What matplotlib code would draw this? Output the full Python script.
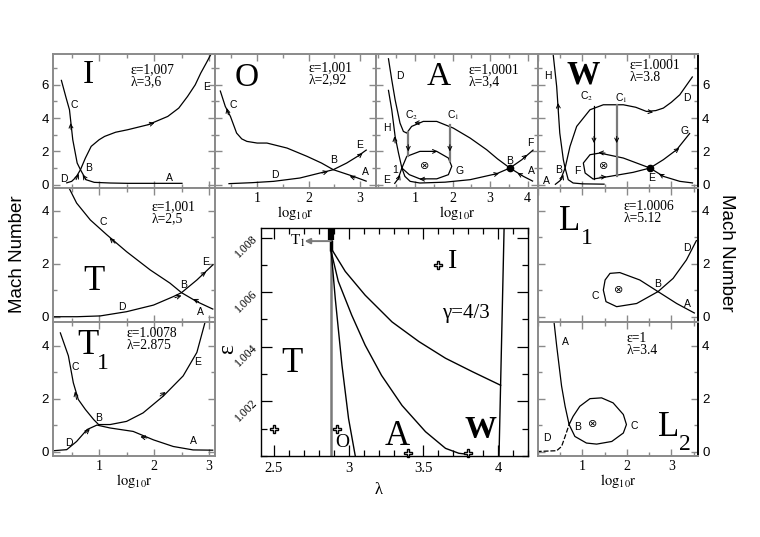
import matplotlib
matplotlib.use("Agg")
import matplotlib.pyplot as plt
from matplotlib.ticker import MultipleLocator, FuncFormatter

plt.rcParams['font.family'] = ['Liberation Serif', 'DejaVu Serif']
plt.rcParams['mathtext.fontset'] = 'stix'

# ---------------- data ----------------
# panel I  (eps=1.007, lambda=3.6)
I_C_x = [0.31, 0.40, 0.46, 0.52, 0.60, 0.66, 0.76, 0.91, 1.2, 1.52, 2.0, 2.52]
I_C_y = [6.3, 5.2, 4.5, 2.7, 1.3, 0.9, 0.3, 0.14, 0.1, 0.08, 0.08, 0.08]
I_DE_x = [0.40, 0.5, 0.58, 0.66, 0.75, 0.855, 1.0, 1.1, 1.3, 1.52, 1.89, 2.25, 2.45, 2.61, 2.75, 2.85, 2.95, 3.04]
I_DE_y = [0.1, 0.2, 0.45, 0.9, 1.6, 2.3, 2.7, 2.9, 3.15, 3.3, 3.6, 4.1, 4.6, 5.3, 6.0, 6.7, 7.3, 7.86]

# panel O  (eps=1.001, lambda=2.92)
O_C_x = [0.28, 0.38, 0.48, 0.6, 0.7, 0.8, 1.0, 1.19, 1.58, 1.97, 2.25, 2.48, 2.87, 3.13]
O_C_y = [5.66, 4.7, 4.1, 3.1, 2.75, 2.6, 2.5, 2.5, 2.2, 1.7, 1.3, 0.9, 0.5, 0.2]
O_DE_x = [0.44, 0.9, 1.32, 1.83, 2.22, 2.48, 2.74, 2.95, 3.13]
O_DE_y = [0.06, 0.12, 0.2, 0.4, 0.7, 0.9, 1.3, 1.7, 2.1]

# panel A  (eps=1.0001, lambda=3.4)
A_D_x = [0.29, 0.38, 0.47, 0.6, 0.69, 0.78, 0.91, 1.22, 1.58, 2.02, 2.47, 2.91, 3.2, 3.53, 3.89, 4.15]
A_D_y = [7.6, 6.3, 5.1, 3.7, 3.2, 3.1, 3.5, 3.8, 3.8, 3.4, 2.8, 2.1, 1.55, 1.0, 0.5, 0.2]
A_H_x = [0.29, 0.38, 0.47, 0.56, 0.65, 0.73, 0.87, 1.13, 1.8, 2.47, 3.18, 3.53, 3.85, 4.16]
A_H_y = [5.7, 4.5, 2.9, 1.9, 1.0, 0.5, 0.2, 0.1, 0.15, 0.3, 0.66, 1.0, 1.5, 2.1]
A_G_x = [0.45, 0.55, 0.65, 0.78, 1.13, 1.58, 1.89, 1.98, 1.89, 1.58, 1.13, 0.85, 0.65]
A_G_y = [0.05, 0.35, 1.0, 1.7, 2.0, 2.0, 1.6, 1.1, 0.6, 0.35, 0.35, 0.6, 1.0]
A_shock_x = [0.82, 1.93]
A_shock_top = [3.15, 3.6]
A_shock_bot = [1.75, 1.45]

# panel W  (eps=1.0001, lambda=3.8)
W_H_x = [0.34, 0.42, 0.49, 0.57, 0.61, 0.68, 0.79, 1.0, 1.5]
W_H_y = [7.86, 5.9, 3.1, 1.5, 1.0, 0.3, 0.1, 0.05, 0.03]
W_D_x = [0.38, 0.5, 0.61, 0.72, 0.87, 1.17, 1.47, 1.92, 2.2, 2.44, 2.65, 2.82, 3.0, 3.19, 3.48]
W_D_y = [0.0, 0.25, 1.0, 2.3, 3.5, 4.5, 4.8, 4.8, 4.65, 4.4, 4.45, 4.6, 4.95, 5.4, 6.5]
W_G_x = [3.42, 3.12, 2.82, 2.52, 1.92, 1.39, 1.17, 1.02, 1.06, 1.24, 1.62, 2.14, 2.52, 2.82, 3.19, 3.49]
W_G_y = [3.1, 2.1, 1.5, 1.0, 1.6, 1.9, 1.8, 1.3, 0.7, 0.34, 0.5, 0.74, 1.0, 0.5, 0.2, 0.1]
W_shock_x = [1.26, 1.77]
W_shock_top = [4.7, 4.8]
W_shock_bot = [0.36, 0.55]

# panel T  (eps=1.001, lambda=2.5)
T_C_x = [0.44, 0.59, 0.84, 1.14, 1.5, 1.93, 2.29, 2.5, 2.78, 3.08]
T_C_y = [4.92, 4.3, 3.66, 3.1, 2.46, 1.77, 1.27, 0.91, 0.57, 0.28]
T_DE_x = [0.17, 0.6, 1.02, 1.5, 1.99, 2.35, 2.5, 2.78, 3.08]
T_DE_y = [0.0, 0.0, 0.03, 0.19, 0.44, 0.76, 0.91, 1.39, 1.98]

# panel T1 (eps=1.0078, lambda=2.875)
T1_CE_x = [0.29, 0.44, 0.53, 0.62, 0.75, 0.9, 0.99, 1.2, 1.5, 1.8, 2.17, 2.53, 2.78, 2.93]
T1_CE_y = [4.51, 3.62, 2.6, 1.97, 1.59, 1.21, 1.02, 1.02, 1.14, 1.46, 2.1, 2.86, 3.75, 4.9]
T1_DA_x = [0.17, 0.41, 0.59, 0.78, 0.96, 1.2, 1.62, 1.99, 2.35, 2.71, 3.08]
T1_DA_y = [0.03, 0.07, 0.38, 0.83, 1.0, 0.89, 0.76, 0.44, 0.19, 0.06, 0.05]

# panel L1 (eps=1.0006, lambda=5.12)
L1_x = [3.53, 3.12, 2.7, 2.29, 1.84, 1.62, 1.51, 1.47, 1.53, 1.77, 2.22, 2.7, 3.04, 3.34, 3.57]
L1_y = [0.13, 0.5, 0.95, 1.39, 1.67, 1.64, 1.39, 1.01, 0.57, 0.38, 0.5, 0.95, 1.45, 2.15, 2.9]

# panel L2 (eps=1, lambda=3.4)
L2_A_x = [0.36, 0.42, 0.53, 0.61, 0.7, 0.83, 1.09, 1.32, 1.66, 1.92, 1.99, 1.92, 1.69, 1.43, 1.17, 0.94, 0.79, 0.7]
L2_A_y = [4.91, 4.0, 2.48, 1.71, 1.02, 0.57, 0.32, 0.28, 0.38, 0.7, 1.02, 1.4, 1.84, 2.03, 2.0, 1.71, 1.33, 1.02]
L2_D_x = [-0.03, 0.42, 0.53, 0.61, 0.7]
L2_D_y = [0.0, 0.03, 0.19, 0.57, 1.02]

# arrows: x, y, dx, dy
I_arr = [(0.49, 3.3, -0.01, 0.4), (0.58, 0.3, 0.05, 0.35), (0.76, 0.3, -0.06, 0.3), (1.89, 3.6, 0.12, 0.12)]
O_arr = [(0.44, 4.2, -0.03, 0.4), (2.26, 0.7, 0.12, 0.1), (2.97, 1.7, 0.08, 0.2), (2.9, 0.4, -0.1, 0.1)]
A_arr = [(0.47, 2.5, -0.02, 0.4), (0.55, 0.3, 0.05, 0.3), (0.82, 2.4, 0, -0.4), (1.93, 2.4, 0, -0.4),
         (1.45, 2.0, 0.15, 0), (1.27, 0.33, -0.15, 0), (3.09, 0.6, 0.15, 0.08), (3.89, 1.6, 0.1, 0.2),
         (3.85, 0.55, -0.12, 0.15), (1.13, 3.72, -0.15, 0)]
W_arr = [(0.46, 4.5, -0.01, 0.4), (0.53, 0.3, 0.04, 0.3), (1.26, 2.9, 0, -0.4), (1.77, 2.9, 0, -0.4),
         (2.44, 4.4, 0.15, -0.05), (1.51, 1.9, -0.15, 0.03), (1.39, 0.45, 0.15, 0.02), (3.08, 2.0, 0.1, 0.2),
         (2.82, 0.5, -0.1, 0.15)]
T_arr = [(1.29, 2.78, -0.1, 0.2), (2.38, 0.72, 0.12, 0.08), (2.87, 1.58, 0.08, 0.12), (2.81, 0.57, -0.1, 0.1)]
T1_arr = [(0.59, 1.97, -0.03, 0.3), (0.75, 0.7, 0.08, 0.15), (2.11, 2.1, 0.1, 0.15), (1.87, 0.51, -0.12, 0.05)]

# small letter labels
I_lab = [('C', 0.54, 4.8), ('E', 2.95, 5.85), ('B', 0.81, 1.0), ('D', 0.36, 0.36), ('A', 2.28, 0.4)]
O_lab = [('C', 0.53, 4.8), ('E', 3.0, 2.4), ('B', 2.48, 1.5), ('A', 3.1, 0.75), ('D', 1.35, 0.6)]
A_lab = [('D', 0.6, 6.5), ('H', 0.24, 3.4), ('F', 4.07, 2.5), ('B', 3.52, 1.45), ('A', 4.1, 0.85),
         ('G', 2.2, 0.85), ('1', 0.47, 0.9), ('E', 0.23, 0.3)]
A_sub = [('C', '2', 0.91, 4.2), ('C', '1', 2.02, 4.2)]
W_lab = [('H', 0.23, 6.5), ('D', 3.34, 5.2), ('G', 3.3, 3.2), ('F', 0.88, 0.8), ('B', 0.46, 0.9),
         ('A', 0.2, 0.2), ('E', 2.55, 0.4)]
W_sub = [('C', '2', 1.09, 5.3), ('C', '1', 1.88, 5.2)]
T_lab = [('C', 1.08, 3.6), ('E', 2.93, 2.08), ('B', 2.53, 1.2), ('A', 2.85, 0.19), ('D', 1.41, 0.38)]
T1_lab = [('C', 0.56, 3.18), ('E', 2.8, 3.37), ('B', 0.99, 1.27), ('D', 0.44, 0.32), ('A', 2.71, 0.38)]
L1_lab = [('D', 3.34, 2.59), ('B', 2.69, 1.24), ('C', 1.28, 0.78), ('A', 3.36, 0.48)]
L2_lab = [('A', 0.61, 4.15), ('B', 0.89, 0.91), ('C', 2.16, 0.95), ('D', 0.21, 0.51)]

# central parameter-space panel
c_O_lam = [2.883, 2.91, 2.955, 2.999, 3.044]
c_O_eps = [1.00748, 1.00577, 1.00332, 1.00137, 1.0]
c_W_lam = [2.883, 2.93, 3.02, 3.11, 3.22, 3.357, 3.514, 3.648, 3.737, 3.8]
c_W_eps = [1.00748, 1.0064, 1.00516, 1.00406, 1.00295, 1.00185, 1.00089, 1.00028, 1.0001, 1.00006]
c_I_lam = [2.883, 2.977, 3.11, 3.29, 3.47, 3.648, 3.827, 4.017]
c_I_eps = [1.0076, 1.00676, 1.00589, 1.00491, 1.00419, 1.00358, 1.00309, 1.00259]
c_edge_lam = [4.04, 4.006]
c_edge_eps = [1.00835, 1.0]
c_T1_lam = 2.88
pt_lam = [2.5, 2.92, 3.4, 3.8, 3.6]
pt_eps = [1.001, 1.001, 1.0001, 1.0001, 1.007]
c_eps_ticks = [1.002, 1.004, 1.006, 1.008]
c_lam_ticks = [2.5, 3, 3.5, 4]

FRAME = '#8a8a8a'
W_PX, H_PX = 760, 537
fig = plt.figure(figsize=(7.6, 5.37), dpi=100)


def box(x0, y0, x1, y1):
    return [x0 / W_PX, 1 - y1 / H_PX, (x1 - x0) / W_PX, (y1 - y0) / H_PX]


def intfmt(v, pos):
    return '%g' % v


def panel(rect, xlim, ylim, xticks=None, yside=None, yticks=None, xlabel=False, right_black=False):
    ax = fig.add_axes(box(*rect))
    ax.set_xlim(xlim)
    ax.set_ylim(ylim)
    ax.xaxis.set_major_locator(MultipleLocator(1))
    ax.xaxis.set_minor_locator(MultipleLocator(0.5))
    ax.yaxis.set_major_locator(MultipleLocator(2))
    ax.yaxis.set_minor_locator(MultipleLocator(1))
    ax.tick_params(which='both', direction='in', top=True, right=True, color=FRAME, width=1)
    ax.tick_params(which='major', length=5)
    ax.tick_params(which='minor', length=3)
    for s in ax.spines.values():
        s.set_color(FRAME)
        s.set_linewidth(1.4)
    if right_black:
        ax.spines['right'].set_color('k')
    if xticks is not None:
        ax.set_xticks(xticks)
        ax.xaxis.set_major_formatter(FuncFormatter(intfmt))
        ax.tick_params(axis='x', labelsize=10, pad=3)
    else:
        ax.tick_params(axis='x', labelbottom=False)
    if yticks is not None:
        ax.set_yticks(yticks)
        ax.yaxis.set_major_formatter(FuncFormatter(intfmt))
    ax.tick_params(axis='y', labelleft=(yside == 'left'), labelright=(yside == 'right'), labelsize=9.5, pad=3)
    for lab in ax.get_yticklabels():
        lab.set_family('Liberation Sans')
    if xlabel:
        ax.set_xlabel(r'$\mathrm{log}_{10}\mathrm{r}$', fontsize=10.5, labelpad=-1)
    return ax


def curve(ax, x, y, color='k', lw=0.9):
    ax.plot(x, y, color=color, lw=lw, solid_capstyle='butt')


def arrows(ax, pts):
    for x, y, dx, dy in pts:
        ax.annotate('', xy=(x + dx, y + dy), xytext=(x, y),
                    arrowprops=dict(arrowstyle='->', lw=0.7, color='k', shrinkA=0, shrinkB=0,
                                    mutation_scale=7))


def letters(ax, labs):
    for t, x, y in labs:
        ax.text(x, y, t, family='Liberation Sans', fontsize=7.5, ha='center', va='center')


def subletters(ax, labs):
    for t, s, x, y in labs:
        ax.text(x, y, t + r'$_{' + s + '}$', family='Liberation Sans', fontsize=7.5, ha='center', va='center')


def params(ax, x, ytop, eps, lam):
    # two tight lines as one text
    ax.text(x, ytop, 'ε=' + eps + '\n' + 'λ=' + lam, fontsize=9.8, ha='left', va='top', linespacing=0.9)


def otimes(ax, x, y):
    ax.text(x, y, '⊗', family='DejaVu Sans', fontsize=8, ha='center', va='center')


YL_TOP = (-0.2, 7.85)
YL_MID = (-0.2, 4.87)
YL_BOT = (-0.17, 4.9)

# ---- top row ----
axI = panel((53, 54, 215, 188), (0.16, 3.11), YL_TOP, yside='left', yticks=[0, 2, 4, 6])
curve(axI, I_C_x, I_C_y)
curve(axI, I_DE_x, I_DE_y)
arrows(axI, I_arr)
letters(axI, I_lab)
axI.text(0.8, 6.6, 'I', fontsize=24, ha='center', va='center')
params(axI, 1.58, 7.3, '1,007', '3,6')

axO = panel((215, 54, 376, 188), (0.18, 3.31), YL_TOP, xticks=[1, 2, 3], xlabel=True)
curve(axO, O_C_x, O_C_y)
curve(axO, O_DE_x, O_DE_y)
arrows(axO, O_arr)
letters(axO, O_lab)
axO.text(0.8, 6.4, 'O', fontsize=24, ha='center', va='center')
params(axO, 2.0, 7.4, '1,001', '2,92')

axA = panel((376, 54, 538, 188), (-0.04, 4.28), YL_TOP, xticks=[1, 2, 3, 4], xlabel=True)
curve(axA, A_D_x, A_D_y)
curve(axA, A_H_x, A_H_y)
curve(axA, A_G_x, A_G_y)
for x, t, b in zip(A_shock_x, A_shock_top, A_shock_bot):
    axA.plot([x, x], [t, b], color='#7a7a7a', lw=1.6)
arrows(axA, A_arr)
letters(axA, A_lab)
subletters(axA, A_sub)
otimes(axA, 1.27, 1.1)
axA.plot([3.53], [1.0], 'o', color='k', ms=4.5)
axA.text(1.62, 6.5, 'A', fontsize=24, ha='center', va='center')
params(axA, 2.42, 7.3, '1,0001', '3,4')

axW = panel((538, 54, 698, 188), (0, 3.6), YL_TOP, yside='right', yticks=[0, 2, 4, 6], right_black=True)
curve(axW, W_H_x, W_H_y)
curve(axW, W_D_x, W_D_y)
curve(axW, W_G_x, W_G_y)
axW.plot([W_shock_x[0]] * 2, [W_shock_top[0], W_shock_bot[0]], color='k', lw=0.9)
axW.plot([W_shock_x[1]] * 2, [W_shock_top[1], W_shock_bot[1]], color='#7a7a7a', lw=1.6)
arrows(axW, W_arr)
letters(axW, W_lab)
subletters(axW, W_sub)
otimes(axW, 1.47, 1.1)
axW.plot([2.52], [1.0], 'o', color='k', ms=4.5)
axW.text(1.02, 6.6, 'W', fontsize=24, weight='bold', ha='center', va='center')
params(axW, 2.07, 7.55, '1.0001', '3.8')

# ---- middle row ----
axT = panel((53, 188, 215, 322), (0.16, 3.11), YL_MID, yside='left', yticks=[0, 2, 4])
curve(axT, T_C_x, T_C_y)
curve(axT, T_DE_x, T_DE_y)
arrows(axT, T_arr)
letters(axT, T_lab)
axT.text(0.9, 1.33, 'T', fontsize=25, ha='center', va='center')
params(axT, 1.96, 4.42, '1,001', '2,5')

axL1 = panel((538, 188, 698, 322), (0, 3.6), YL_MID, yside='right', yticks=[0, 2, 4], right_black=True)
curve(axL1, L1_x, L1_y)
letters(axL1, L1_lab)
otimes(axL1, 1.82, 1.01)
axL1.text(0.72, 3.6, 'L', fontsize=25, ha='center', va='center')
axL1.text(1.1, 2.95, '1', fontsize=17, ha='center', va='center')
params(axL1, 1.92, 4.4, '1.0006', '5.12')

# ---- bottom row ----
axT1 = panel((53, 322, 215, 456), (0.16, 3.11), YL_BOT, xticks=[1, 2, 3], yside='left', yticks=[0, 2, 4],
             xlabel=True)
curve(axT1, T1_CE_x, T1_CE_y)
curve(axT1, T1_DA_x, T1_DA_y)
arrows(axT1, T1_arr)
letters(axT1, T1_lab)
axT1.text(0.8, 4.0, 'T', fontsize=25, ha='center', va='center')
axT1.text(1.07, 3.34, '1', fontsize=17, ha='center', va='center')
params(axT1, 1.5, 4.7, '1.0078', '2.875')

axL2 = panel((538, 322, 698, 456), (0, 3.6), YL_BOT, xticks=[1, 2, 3], yside='right', yticks=[0, 2, 4],
             xlabel=True, right_black=True)
curve(axL2, L2_A_x, L2_A_y)
axL2.plot(L2_D_x, L2_D_y, color='k', lw=0.9, ls=(0, (4, 1.5)))
letters(axL2, L2_lab)
otimes(axL2, 1.24, 1.04)
axL2.text(2.93, 0.89, 'L', fontsize=25, ha='center', va='center')
axL2.text(3.31, 0.25, '2', fontsize=17, ha='center', va='center')
params(axL2, 1.99, 4.52, '1', '3.4')

# ---- centre: parameter space ----
axC = fig.add_axes(box(261, 228, 528, 456))
axC.set_xlim(2.413, 4.2)
axC.set_ylim(1.0, 1.00835)
for s in axC.spines.values():
    s.set_color('k')
    s.set_linewidth(1.0)
axC.set_xticks(c_lam_ticks)
axC.xaxis.set_minor_locator(MultipleLocator(0.1))
axC.set_yticks(c_eps_ticks)
axC.yaxis.set_minor_locator(MultipleLocator(0.001))
axC.xaxis.set_major_formatter(FuncFormatter(intfmt))
axC.yaxis.set_major_formatter(FuncFormatter(lambda v, p: '%.3f' % v))
axC.tick_params(which='both', direction='in', top=True, right=True, color='k', width=0.9)
axC.tick_params(which='major', length=8)
axC.tick_params(which='minor', length=4)
axC.tick_params(axis='x', labelsize=10.5, pad=4)
axC.tick_params(axis='y', labelsize=8.5, pad=1)
for lab in axC.get_yticklabels():
    lab.set_rotation(45)
axC.axvline(c_T1_lam, color='#7a7a7a', lw=1.8)
axC.plot(c_O_lam, c_O_eps, color='k', lw=1.0)
axC.plot(c_W_lam, c_W_eps, color='k', lw=1.0)
axC.plot(c_I_lam, c_I_eps, color='k', lw=1.0)
axC.plot(c_edge_lam, c_edge_eps, color='k', lw=1.0)
axC.plot([c_T1_lam, c_T1_lam], [1.0079, 1.00835], color='k', lw=4.5, solid_capstyle='butt')
axC.plot([c_T1_lam, c_T1_lam], [1.0075, 1.0079], color='k', lw=2.5, solid_capstyle='butt')
axC.annotate('', xy=(2.705, 1.00787), xytext=(c_T1_lam, 1.00787),
             arrowprops=dict(arrowstyle='-|>', color='#7a7a7a', lw=1.4, mutation_scale=8, shrinkA=0, shrinkB=0))
axC.plot(pt_lam, pt_eps, 'P', ms=6, mfc='white', mec='k', mew=1.0, ls='none', clip_on=False)
axC.text(2.66, 1.00787, r'T$_1$', fontsize=11, ha='center', va='center')
axC.text(2.62, 1.00338, 'T', fontsize=25, ha='center', va='center')
axC.text(2.958, 1.0005, 'O', fontsize=14, ha='center', va='center')
axC.text(3.324, 1.00071, 'A', fontsize=25, ha='center', va='center')
axC.text(3.883, 1.00094, 'W', fontsize=23, weight='bold', ha='center', va='center')
axC.text(3.693, 1.00714, 'I', fontsize=20, ha='center', va='center')
axC.text(3.782, 1.00522, 'γ=4/3', fontsize=15, ha='center', va='center')
axC.text(-0.125, 0.47, 'ε', transform=axC.transAxes, fontsize=17, rotation=90, ha='center', va='center')
axC.text(0.44, -0.15, 'λ', transform=axC.transAxes, fontsize=12, ha='center', va='center')

fig.text(18 / W_PX, 1 - 254 / H_PX, 'Mach Number', family='Liberation Sans', fontsize=13.5,
         rotation=90, ha='center', va='center')
fig.text(727 / W_PX, 1 - 253 / H_PX, 'Mach Number', family='Liberation Sans', fontsize=13.5,
         rotation=270, ha='center', va='center')

fig.savefig('out.png', dpi=100, facecolor='white')
